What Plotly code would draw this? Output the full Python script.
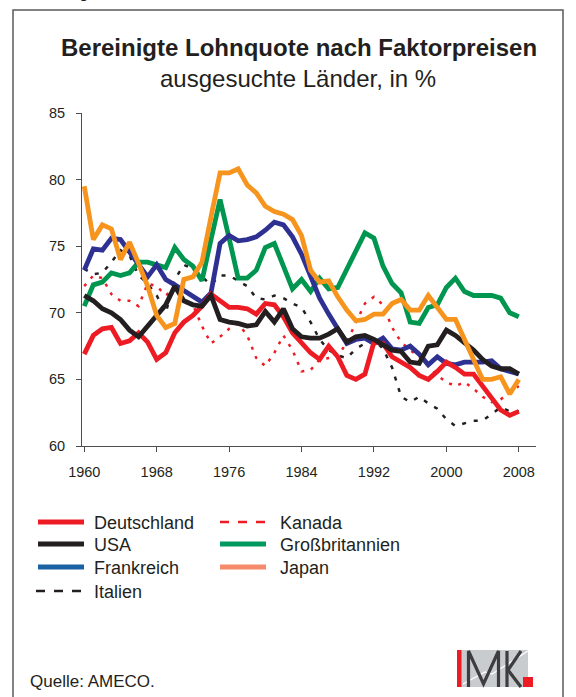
import plotly.graph_objects as go

# ---------------- data ----------------
years = list(range(1960, 2009))

deutschland = [66.9, 68.3, 68.8, 68.9, 67.7, 67.9, 68.5, 67.8, 66.5, 67.0,
               68.5, 69.3, 69.8, 70.5, 71.4, 70.9, 70.4, 70.4, 70.3, 69.9,
               70.7, 70.6, 69.7, 68.5, 67.7, 67.0, 66.5, 67.5, 66.7, 65.3,
               65.0, 65.4, 67.8, 67.7, 66.7, 66.3, 65.9, 65.3, 65.0, 65.6,
               66.3, 65.9, 65.4, 65.4, 64.5, 63.5, 62.7, 62.3, 62.6]

usa = [71.3, 70.9, 70.3, 70.0, 69.5, 68.7, 68.2, 69.0, 69.8, 70.6,
       72.0, 70.9, 70.6, 70.5, 71.3, 69.5, 69.3, 69.2, 69.0, 69.1,
       70.1, 69.3, 70.3, 68.8, 68.2, 68.1, 68.1, 68.4, 68.8, 67.8,
       68.2, 68.3, 68.0, 67.6, 67.2, 67.1, 66.3, 66.2, 67.5, 67.6,
       68.7, 68.3, 67.8, 67.2, 66.5, 66.0, 65.8, 65.8, 65.4]

frankreich = [73.2, 74.8, 74.7, 75.6, 75.5, 74.6, 73.6, 72.7, 73.6, 72.5,
              72.1, 71.7, 71.3, 70.8, 71.5, 75.2, 75.8, 75.4, 75.5, 75.7,
              76.2, 76.8, 76.6, 75.7, 74.4, 72.8, 71.1, 69.9, 68.8, 67.7,
              68.0, 68.1, 67.7, 68.1, 67.3, 67.2, 67.5, 66.9, 66.1, 66.7,
              66.2, 66.1, 66.3, 66.3, 66.3, 66.4, 65.8, 65.6, 65.4]

italien = [73.3, 72.9, 73.0, 73.8, 74.7, 74.3, 72.8, 72.2, 71.3, 70.0,
           72.5, 73.6, 73.3, 72.7, 72.1, 72.8, 72.8, 72.4, 72.0, 71.1,
           71.0, 71.3, 71.1, 70.7, 70.4, 69.3, 68.0, 67.2, 66.8, 66.6,
           67.3, 67.7, 68.0, 67.3, 65.9, 63.7, 63.3, 63.7, 63.2, 62.8,
           62.0, 61.5, 61.7, 61.9, 61.9, 62.4, 62.9, 62.6, 62.6]

kanada = [72.0, 72.8, 72.6, 71.4, 70.9, 70.9, 70.5, 72.2, 72.0, 71.3,
          71.8, 70.8, 70.6, 69.0, 67.7, 68.2, 68.8, 69.2, 68.3, 66.6,
          66.0, 67.0, 68.3, 67.2, 65.6, 65.7, 66.5, 66.6, 66.7, 67.8,
          69.3, 70.7, 71.2, 70.6, 68.9, 67.8, 67.2, 66.7, 66.0, 65.3,
          64.8, 64.5, 64.8, 64.3, 63.7, 63.3, 63.5, 64.0, 64.5]

grossbritannien = [70.5, 72.1, 72.3, 73.0, 72.8, 73.0, 73.8, 73.8, 73.6, 73.4,
                   74.9, 74.0, 73.5, 72.4, 75.5, 78.5, 75.6, 72.6, 72.6, 73.2,
                   74.9, 75.2, 73.5, 71.8, 72.5, 71.6, 72.6, 71.8, 71.9, 73.3,
                   74.5, 76.0, 75.6, 73.5, 72.2, 71.5, 69.3, 69.2, 70.4, 70.6,
                   71.9, 72.6, 71.6, 71.3, 71.3, 71.3, 71.1, 70.0, 69.7]

japan = [79.5, 75.5, 76.6, 76.3, 74.0, 75.3, 73.7, 72.0, 69.8, 68.9,
         69.2, 72.5, 72.7, 73.8, 77.2, 80.5, 80.5, 80.8, 79.6, 79.0,
         78.0, 77.6, 77.4, 77.0, 75.8, 73.2, 72.3, 72.4, 71.2, 70.2,
         69.4, 69.5, 69.9, 69.9, 70.7, 71.0, 70.2, 70.2, 71.3, 70.4,
         69.5, 69.5, 68.0, 66.5, 65.0, 65.0, 65.2, 63.9, 65.0]

x_ticks = [1960, 1968, 1976, 1984, 1992, 2000, 2008]
y_ticks = [60, 65, 70, 75, 80, 85]

title = "Bereinigte Lohnquote nach Faktorpreisen"
subtitle = "ausgesuchte Länder, in %"
source = "Quelle: AMECO."

# ---------------- styles ----------------
FONT = "Liberation Sans, Arial, Helvetica, sans-serif"
TXT = "#231f20"
RED = "#ed1c24"
BLACK = "#231f20"
NAVY = "#2e3192"
GREEN = "#009650"
ORANGE = "#f7941d"

W, H = 576, 697
L, R, T, B = 82, 536, 113, 446  # plot area in pixels


def px(x):
    return (x - L) / (R - L)


def py(y):
    return (B - y) / (B - T)


# drawing order bottom -> top
series = [
    ("Kanada", kanada, dict(color=RED, width=2.5, dash="3px,7px")),
    ("Italien", italien, dict(color=BLACK, width=2.5, dash="4px,8px")),
    ("Großbritannien", grossbritannien, dict(color=GREEN, width=4.8)),
    ("Frankreich", frankreich, dict(color=NAVY, width=4.8)),
    ("Deutschland", deutschland, dict(color=RED, width=4.8)),
    ("USA", usa, dict(color=BLACK, width=4.8)),
    ("Japan", japan, dict(color=ORANGE, width=4.8)),
]

fig = go.Figure()
for name, vals, ls in series:
    fig.add_trace(go.Scatter(x=years, y=vals, mode="lines", name=name,
                             line=dict(shape="linear", **ls),
                             showlegend=False, hoverinfo="x+y+name"))

shapes = []
annotations = []

# outer frame
shapes.append(dict(type="rect", xref="paper", yref="paper",
                   x0=px(13), x1=px(563), y0=py(10), y1=py(720),
                   line=dict(color="#58595b", width=1.5), fillcolor="rgba(0,0,0,0)"))

# titles
annotations.append(dict(text="<b>" + title + "</b>", x=px(299), y=py(47),
                        xref="paper", yref="paper", showarrow=False,
                        xanchor="center", yanchor="middle",
                        font=dict(family=FONT, size=24, color=TXT)))
annotations.append(dict(text=subtitle, x=px(298), y=py(78),
                        xref="paper", yref="paper", showarrow=False,
                        xanchor="center", yanchor="middle",
                        font=dict(family=FONT, size=24, color=TXT)))
annotations.append(dict(text="Abbildung 1", x=px(15), y=py(-8),
                        xref="paper", yref="paper", showarrow=False,
                        xanchor="left", yanchor="middle",
                        font=dict(family=FONT, size=16, color=TXT)))

# manual legend (as in the original figure)
legend_items = [
    ("Deutschland", dict(color="#ed1c24", width=5), 38, 92, 522),
    ("USA", dict(color="#231f20", width=5), 38, 92, 544),
    ("Frankreich", dict(color="#1a62a3", width=5), 38, 92, 567),
    ("Italien", dict(color="#231f20", width=2.5, dash="dash"), 36, 92, 591),
    ("Kanada", dict(color="#ed1c24", width=2.5, dash="dash"), 220, 278, 522),
    ("Großbritannien", dict(color="#009a60", width=5), 220, 278, 544),
    ("Japan", dict(color="#f68b6c", width=5), 220, 278, 567),
]
for label, lstyle, lx, tx, ly in legend_items:
    shapes.append(dict(type="line", xref="paper", yref="paper",
                       x0=px(lx), x1=px(lx + 46), y0=py(ly), y1=py(ly),
                       line=lstyle))
    annotations.append(dict(text=label, x=px(tx), y=py(ly + 1),
                            xref="paper", yref="paper", showarrow=False,
                            xanchor="left", yanchor="middle",
                            font=dict(family=FONT, size=18, color=TXT)))

# source
annotations.append(dict(text=source, x=px(28), y=py(681),
                        xref="paper", yref="paper", showarrow=False,
                        xanchor="left", yanchor="middle",
                        font=dict(family=FONT, size=17, color=TXT)))

# IMK logo
shapes.append(dict(type="rect", xref="paper", yref="paper",
                   x0=px(457), x1=px(528), y0=py(650), y1=py(687),
                   line=dict(width=0), fillcolor="#c9cccf"))
shapes.append(dict(type="rect", xref="paper", yref="paper",
                   x0=px(457), x1=px(461.5), y0=py(650), y1=py(687),
                   line=dict(width=0), fillcolor="#ed1c24"))
shapes.append(dict(type="path", xref="paper", yref="paper",
                   path=f"M{px(463)},{py(684)} L{px(485)},{py(672)} L{px(492)},{py(674)} L{px(528)},{py(651)}",
                   line=dict(color="white", width=1.2)))
shapes.append(dict(type="path", xref="paper", yref="paper",
                   path=(f"M{px(468.5)},{py(687)} L{px(468.5)},{py(651)} L{px(483.5)},{py(684)} "
                         f"L{px(498.5)},{py(651)} L{px(498.5)},{py(687)}"),
                   line=dict(color="#3d3d3f", width=3.2)))
shapes.append(dict(type="line", xref="paper", yref="paper",
                   x0=px(507), x1=px(507), y0=py(651), y1=py(687),
                   line=dict(color="#3d3d3f", width=3.2)))
shapes.append(dict(type="path", xref="paper", yref="paper",
                   path=f"M{px(521)},{py(651)} L{px(508)},{py(670)} L{px(521)},{py(687)}",
                   line=dict(color="#3d3d3f", width=3.2)))
shapes.append(dict(type="rect", xref="paper", yref="paper",
                   x0=px(523), x1=px(533), y0=py(677), y1=py(687),
                   line=dict(width=0), fillcolor="#ed1c24"))

axis_common = dict(showgrid=False, zeroline=False, showline=True,
                   linecolor="#4d4d4f", linewidth=1, ticks="outside",
                   ticklen=5, tickwidth=1, tickcolor="#4d4d4f",
                   tickfont=dict(family=FONT, size=14.5, color=TXT))

fig.update_layout(
    width=W, height=H,
    margin=dict(l=L, r=W - R, t=T, b=H - B, pad=0),
    paper_bgcolor="white", plot_bgcolor="white",
    showlegend=False,
    xaxis=dict(range=[1959.75, 2009.9], tickvals=x_ticks,
               ticktext=[str(v) for v in x_ticks], ticklabelstandoff=8,
               **axis_common),
    yaxis=dict(range=[60, 85], tickvals=y_ticks, ticklabelstandoff=8,
               **axis_common),
    shapes=shapes,
    annotations=annotations,
)

fig.write_html(
    "out.html",
    config={"displayModeBar": False},
    post_script="document.body.style.margin='0';document.documentElement.style.overflow='hidden';",
)
